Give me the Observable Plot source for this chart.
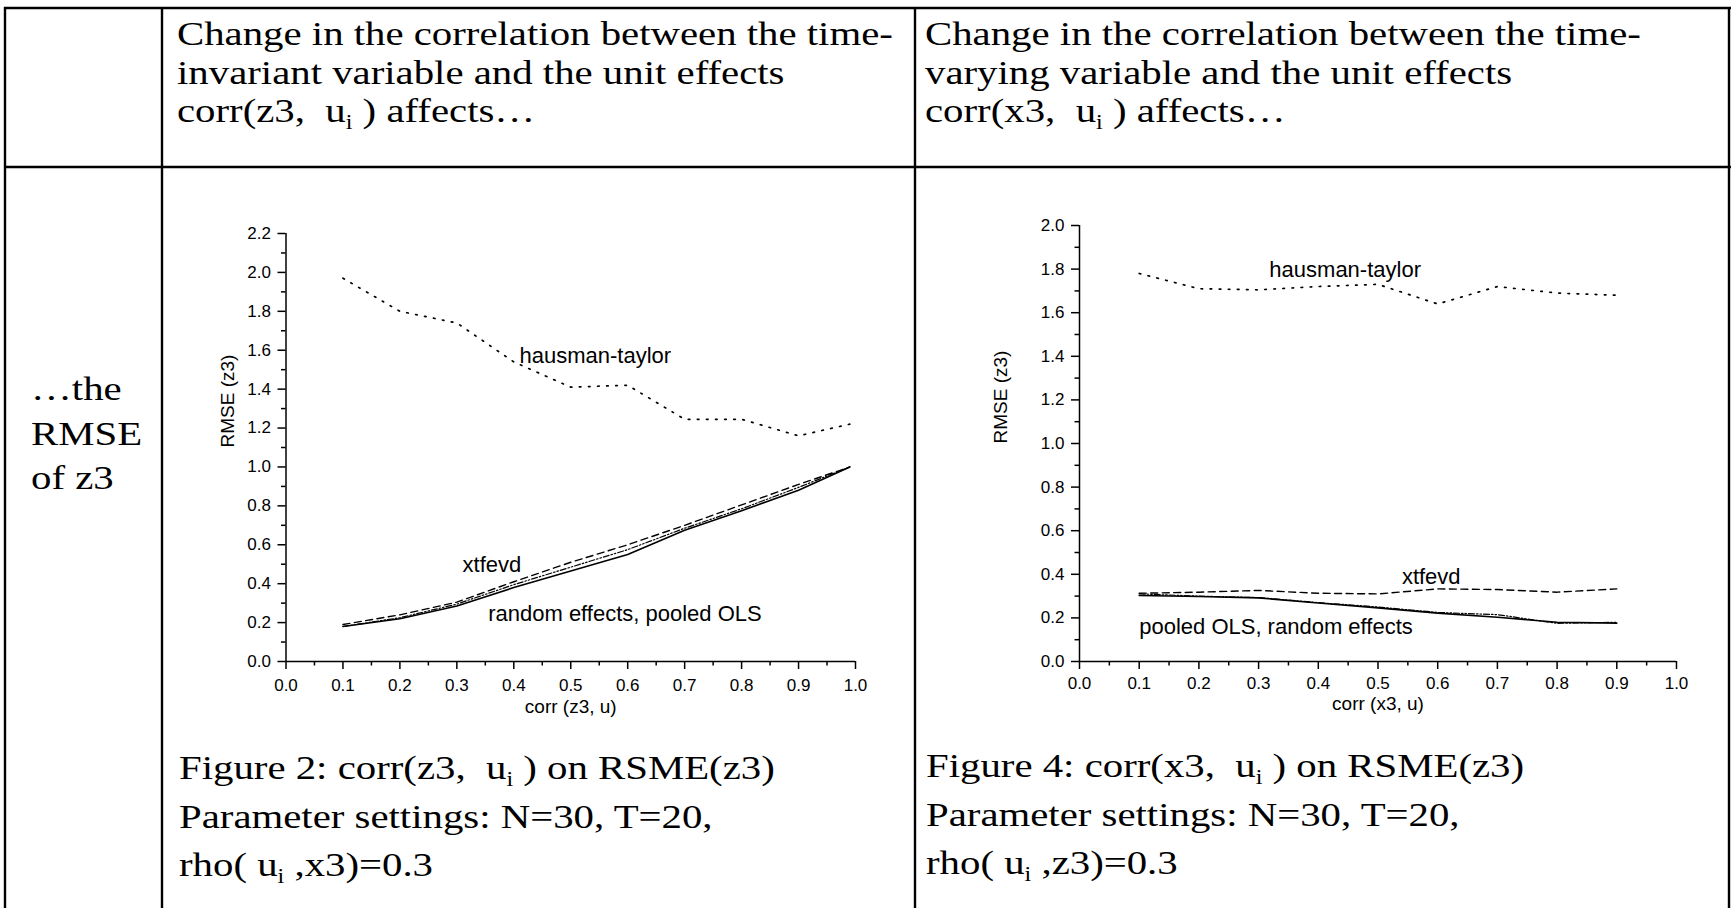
<!DOCTYPE html>
<html>
<head>
<meta charset="utf-8">
<script src="https://cdn.jsdelivr.net/npm/d3@7"></script>
<script src="https://cdn.jsdelivr.net/npm/@observablehq/plot@0.6"></script>
<style>
  html, body { margin: 0; padding: 0; background: #fff; width: 1731px; height: 908px; overflow: hidden; }
  #bg { position: absolute; left: 0; top: 0; }
  .chart { position: absolute; }
  .serif text { white-space: pre; }
</style>
</head>
<body>
<svg id="bg" width="1731" height="908">
  <g stroke="#000" stroke-width="2.4" fill="none">
    <line x1="4" y1="8" x2="1731" y2="8"/>
    <line x1="4" y1="167" x2="1731" y2="167"/>
    <line x1="5" y1="7" x2="5" y2="908"/>
    <line x1="162" y1="7" x2="162" y2="908"/>
    <line x1="915" y1="7" x2="915" y2="908"/>
    <line x1="1729" y1="7" x2="1729" y2="908"/>
  </g>
  <g class="serif" font-family="'Liberation Serif','Times New Roman',serif" font-size="34" fill="#000">
    <text transform="translate(177,45) scale(1.2,1)">Change in the correlation between the time-</text>
    <text transform="translate(177,84) scale(1.2,1)">invariant variable and the unit effects</text>
    <text transform="translate(177,122) scale(1.2,1)">corr(z3,  u<tspan font-size="20" dy="7">i</tspan><tspan dy="-7"> ) affects…</tspan></text>

    <text transform="translate(925,45) scale(1.2,1)">Change in the correlation between the time-</text>
    <text transform="translate(925,84) scale(1.2,1)">varying variable and the unit effects</text>
    <text transform="translate(925,122) scale(1.2,1)">corr(x3,  u<tspan font-size="20" dy="7">i</tspan><tspan dy="-7"> ) affects…</tspan></text>

    <text transform="translate(31,400) scale(1.2,1)">…the</text>
    <text transform="translate(31,445) scale(1.2,1)">RMSE</text>
    <text transform="translate(31,489) scale(1.2,1)">of z3</text>

    <text transform="translate(179,779) scale(1.2,1)">Figure 2: corr(z3,  u<tspan font-size="20" dy="7">i</tspan><tspan dy="-7"> ) on RSME(z3)</tspan></text>
    <text transform="translate(179,828) scale(1.2,1)">Parameter settings: N=30, T=20,</text>
    <text transform="translate(179,876) scale(1.2,1)">rho( u<tspan font-size="20" dy="7">i</tspan><tspan dy="-7"> ,x3)=0.3</tspan></text>

    <text transform="translate(926,777) scale(1.2,1)">Figure 4: corr(x3,  u<tspan font-size="20" dy="7">i</tspan><tspan dy="-7"> ) on RSME(z3)</tspan></text>
    <text transform="translate(926,826) scale(1.2,1)">Parameter settings: N=30, T=20,</text>
    <text transform="translate(926,874) scale(1.2,1)">rho( u<tspan font-size="20" dy="7">i</tspan><tspan dy="-7"> ,z3)=0.3</tspan></text>
  </g>
</svg>
<div id="c1" class="chart" style="left:185px;top:200px;width:720px;height:530px"></div>
<div id="c2" class="chart" style="left:979px;top:200px;width:740px;height:530px"></div>
<script>
// ---------- Data ----------
// Figure 2: corr(z3, u) on RMSE(z3)
const corrZ3 = [0.1, 0.2, 0.3, 0.4, 0.5, 0.6, 0.7, 0.8, 0.9, 0.99];
const fig2Hausman = [1.97, 1.80, 1.74, 1.54, 1.41, 1.42, 1.245, 1.245, 1.16, 1.22];
const fig2Xtfevd  = [0.19, 0.24, 0.305, 0.41, 0.51, 0.60, 0.70, 0.805, 0.91, 1.0];
const fig2Random  = [0.18, 0.22, 0.285, 0.38, 0.465, 0.55, 0.675, 0.775, 0.88, 1.0];
const fig2Pooled  = [0.18, 0.225, 0.295, 0.395, 0.485, 0.575, 0.685, 0.785, 0.895, 1.0];

// Figure 4: corr(x3, u) on RMSE(z3)
const corrX3 = [0.1, 0.2, 0.3, 0.4, 0.5, 0.6, 0.7, 0.8, 0.9];
const fig4Hausman = [1.78, 1.71, 1.705, 1.72, 1.73, 1.64, 1.72, 1.69, 1.68];
const fig4Xtfevd  = [0.313, 0.318, 0.326, 0.313, 0.31, 0.333, 0.33, 0.318, 0.333];
const fig4Random  = [0.303, 0.298, 0.292, 0.268, 0.246, 0.222, 0.203, 0.18, 0.176];
const fig4Pooled  = [0.31, 0.30, 0.293, 0.27, 0.25, 0.225, 0.215, 0.175, 0.18];

// Tick values
const xMajorTicks = [0.0, 0.1, 0.2, 0.3, 0.4, 0.5, 0.6, 0.7, 0.8, 0.9, 1.0];
const xMinorTicks = [0.05, 0.15, 0.25, 0.35, 0.45, 0.55, 0.65, 0.75, 0.85, 0.95];
const yMajorTicks2 = [0.0, 0.2, 0.4, 0.6, 0.8, 1.0, 1.2, 1.4, 1.6, 1.8, 2.0, 2.2];
const yMinorTicks2 = [0.1, 0.3, 0.5, 0.7, 0.9, 1.1, 1.3, 1.5, 1.7, 1.9, 2.1];
const yMajorTicks4 = [0.0, 0.2, 0.4, 0.6, 0.8, 1.0, 1.2, 1.4, 1.6, 1.8, 2.0];
const yMinorTicks4 = [0.1, 0.3, 0.5, 0.7, 0.9, 1.1, 1.3, 1.5, 1.7, 1.9];

// Series labels written on the plots
const fig2Notes = [
  {x: 0.41, y: 1.57, text: "hausman-taylor"},
  {x: 0.31, y: 0.495, text: "xtfevd"},
  {x: 0.355, y: 0.245, text: "random effects, pooled OLS"}
];
const fig4Notes = [
  {x: 0.318, y: 1.795, text: "hausman-taylor"},
  {x: 0.54, y: 0.39, text: "xtfevd"},
  {x: 0.1, y: 0.16, text: "pooled OLS, random effects"}
];

// ---------- Drawing ----------
const lineStyles = {
  hausman: {strokeDasharray: "1.6 7.5", strokeLinecap: "round", strokeWidth: 1.7},
  xtfevd:  {strokeDasharray: "7 4.5", strokeWidth: 1.4},
  random:  {strokeWidth: 1.6},
  pooled:  {strokeDasharray: "6 2 1.5 2 1.5 2", strokeWidth: 1.2}
};

function rows(xs, ys) { return xs.map((x, i) => ({x, y: ys[i]})); }

function makeChart(cfg) {
  const font = "Arial, 'Liberation Sans', sans-serif";
  const seriesMarks = Object.entries(cfg.series).map(([key, ys]) =>
    Plot.line(rows(cfg.xs, ys), {x: "x", y: "y", stroke: "#000", fill: "none", ...lineStyles[key]})
  );
  return Plot.plot({
    width: cfg.width,
    height: cfg.height,
    marginLeft: cfg.margin[0],
    marginRight: cfg.margin[1],
    marginTop: cfg.margin[2],
    marginBottom: cfg.margin[3],
    style: {background: "transparent", fontFamily: font, fontSize: "17px", overflow: "visible", color: "#000"},
    x: {domain: [0, 1]},
    y: {domain: [0, cfg.yMax]},
    marks: [
      Plot.ruleY([0], {stroke: "#000", strokeWidth: 1.5}),
      Plot.ruleX([0], {stroke: "#000", strokeWidth: 1.5}),
      Plot.axisX(xMajorTicks, {anchor: "bottom", tickSize: 8, tickPadding: cfg.xTickPad, tickFormat: ".1f", fontSize: 17, strokeWidth: 1.5, label: null}),
      Plot.axisX(xMinorTicks, {anchor: "bottom", tickSize: 4.5, tickFormat: () => "", strokeWidth: 1.5, label: null}),
      Plot.axisY(cfg.yMajor, {anchor: "left", tickSize: 8, tickPadding: 7, tickFormat: ".1f", fontSize: 17, strokeWidth: 1.5, label: null}),
      Plot.axisY(cfg.yMinor, {anchor: "left", tickSize: 4.5, tickFormat: () => "", strokeWidth: 1.5, label: null}),
      ...seriesMarks,
      Plot.text(cfg.notes, {x: "x", y: "y", text: "text", textAnchor: "start", fontSize: 22, fill: "#000"}),
      Plot.text([cfg.yLabel], {frameAnchor: "left", dx: cfg.yLabelDx, rotate: -90, fontSize: 19, fill: "#000"}),
      Plot.text([cfg.xLabel], {frameAnchor: "bottom", dy: cfg.xLabelDy, fontSize: 19, fill: "#000"})
    ]
  });
}

document.getElementById("c1").appendChild(makeChart({
  xs: corrZ3,
  series: {hausman: fig2Hausman, xtfevd: fig2Xtfevd, random: fig2Random, pooled: fig2Pooled},
  yMax: 2.2, yMajor: yMajorTicks2, yMinor: yMinorTicks2,
  width: 720, height: 530, margin: [100.5, 50, 33, 69],
  notes: fig2Notes, xTickPad: 9,
  yLabel: "RMSE (z3)", yLabelDx: -58,
  xLabel: "corr (z3, u)", xLabelDy: 51
}));

document.getElementById("c2").appendChild(makeChart({
  xs: corrX3,
  series: {hausman: fig4Hausman, xtfevd: fig4Xtfevd, random: fig4Random, pooled: fig4Pooled},
  yMax: 2.0, yMajor: yMajorTicks4, yMinor: yMinorTicks4,
  width: 740, height: 530, margin: [100, 43, 25, 69],
  notes: fig4Notes, xTickPad: 7,
  yLabel: "RMSE (z3)", yLabelDx: -79,
  xLabel: "corr (x3, u)", xLabelDy: 48
}));
</script>
</body>
</html>
